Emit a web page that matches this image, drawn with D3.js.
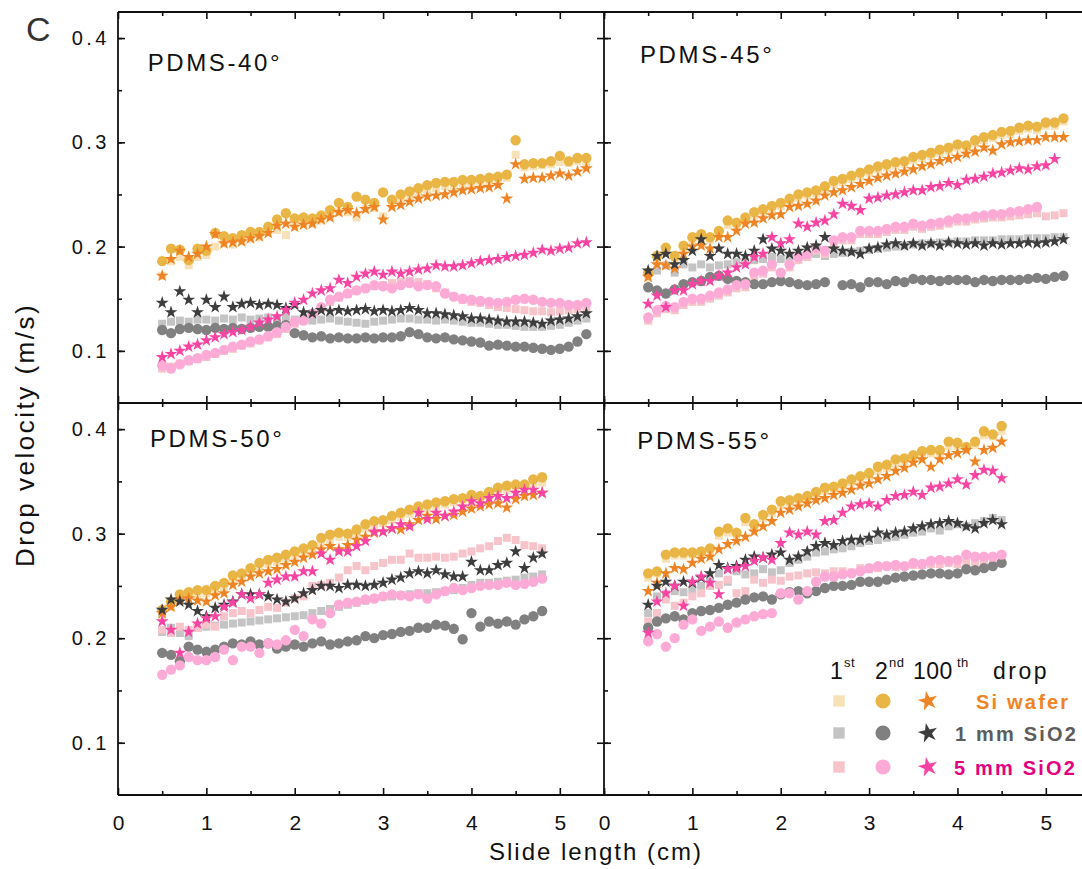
<!DOCTYPE html>
<html><head><meta charset="utf-8">
<script src="https://cdn.jsdelivr.net/npm/d3@7"></script>
<style>
body{margin:0;background:#fff}
svg{display:block}
text{font-family:Arial,"Liberation Sans",Helvetica,sans-serif}
</style>
</head><body>
<svg id="chart" width="1082" height="869"></svg>
<script>
// ---------- sample positions (cm) ----------
const X40 = [0.5,0.6,0.7,0.8,0.9,1.0,1.1,1.2,1.3,1.4,1.5,1.6,1.7,1.8,1.9,2.0,2.1,2.2,2.3,2.4,2.5,2.6,2.7,2.8,2.9,3.0,3.1,3.2,3.3,3.4,3.5,3.6,3.7,3.8,3.9,4.0,4.1,4.2,4.3,4.4,4.5,4.6,4.7,4.8,4.9,5.0,5.1,5.2,5.3];
const X45 = [0.5,0.6,0.7,0.8,0.9,1.0,1.1,1.2,1.3,1.4,1.5,1.6,1.7,1.8,1.9,2.0,2.1,2.2,2.3,2.4,2.5,2.6,2.7,2.8,2.9,3.0,3.1,3.2,3.3,3.4,3.5,3.6,3.7,3.8,3.9,4.0,4.1,4.2,4.3,4.4,4.5,4.6,4.7,4.8,4.9,5.0,5.1,5.2];
const X50 = [0.5,0.6,0.7,0.8,0.9,1.0,1.1,1.2,1.3,1.4,1.5,1.6,1.7,1.8,1.9,2.0,2.1,2.2,2.3,2.4,2.5,2.6,2.7,2.8,2.9,3.0,3.1,3.2,3.3,3.4,3.5,3.6,3.7,3.8,3.9,4.0,4.1,4.2,4.3,4.4,4.5,4.6,4.7,4.8];
const X55 = [0.5,0.6,0.7,0.8,0.9,1.0,1.1,1.2,1.3,1.4,1.5,1.6,1.7,1.8,1.9,2.0,2.1,2.2,2.3,2.4,2.5,2.6,2.7,2.8,2.9,3.0,3.1,3.2,3.3,3.4,3.5,3.6,3.7,3.8,3.9,4.0,4.1,4.2,4.3,4.4,4.5];

// ---------- PDMS-40° (m/s) ----------
const si1st_40 = [.172,.186,.190,.182,.190,.192,.200,.203,.202,.205,.207,.209,.214,.216,.211,.220,.222,.222,.225,.229,.233,.233,.228,.236,.237,.229,.240,.244,.247,.250,.254,.256,.258,.258,.260,.261,.262,.263,.264,.266,.288,.276,.277,.278,.279,.281,.280,.282,.281];
const si2nd_40 = [.186,.198,.197,.187,.198,.196,.213,.210,.208,.211,.214,.214,.219,.226,.232,.227,.228,.227,.230,.235,.242,.238,.248,.245,.242,.252,.245,.250,.253,.256,.259,.261,.262,.262,.264,.264,.265,.266,.267,.269,.302,.279,.280,.280,.282,.287,.282,.285,.285];
const si100_40 = [.172,.188,.196,.190,.193,.200,.212,.203,.204,.205,.208,.210,.213,.220,.222,.219,.221,.222,.226,.228,.233,.235,.232,.236,.238,.226,.238,.240,.243,.246,.248,.249,.250,.252,.254,.255,.256,.257,.259,.246,.279,.265,.266,.266,.268,.270,.268,.272,.275];
const m1st_40 = [.126,.128,.129,.128,.130,.130,.129,.131,.130,.132,.130,.131,.132,.131,.133,.130,.131,.129,.130,.131,.129,.128,.127,.126,.128,.129,.130,.131,.131,.130,.130,.129,.130,.129,.128,.127,.127,.126,.125,.125,.124,.123,.123,.123,.124,.125,.127,.129,.131];
const m2nd_40 = [.120,.117,.121,.122,.121,.120,.122,.121,.122,.121,.122,.123,.123,.124,.125,.117,.115,.113,.114,.112,.113,.112,.112,.113,.112,.113,.113,.114,.118,.116,.113,.112,.113,.111,.110,.109,.108,.105,.106,.105,.104,.104,.103,.102,.101,.102,.104,.109,.116];
const m100_40 = [.146,.137,.157,.149,.137,.149,.142,.152,.142,.145,.146,.144,.145,.144,.141,.144,.137,.136,.139,.138,.139,.138,.139,.140,.138,.139,.138,.139,.141,.139,.136,.136,.135,.134,.133,.131,.131,.130,.129,.128,.128,.128,.127,.126,.129,.130,.131,.133,.136];
const p1st_40 = [.083,.085,.088,.090,.092,.094,.097,.100,.102,.105,.107,.110,.113,.116,.121,.126,.130,.136,.141,.147,.151,.155,.158,.160,.162,.163,.165,.166,.167,.166,.164,.160,.156,.152,.149,.147,.146,.144,.142,.141,.140,.139,.138,.138,.137,.138,.139,.140,.141];
const p2nd_40 = [.086,.083,.087,.091,.093,.096,.098,.101,.104,.106,.109,.111,.114,.118,.123,.128,.129,.136,.142,.149,.152,.155,.158,.160,.163,.162,.160,.163,.165,.162,.163,.162,.155,.152,.150,.149,.148,.147,.146,.147,.149,.150,.149,.147,.146,.146,.144,.144,.146];
const p100_40 = [.094,.097,.100,.104,.106,.110,.113,.116,.118,.120,.123,.127,.130,.133,.139,.146,.149,.155,.158,.160,.168,.165,.171,.174,.176,.173,.176,.174,.176,.178,.179,.182,.181,.181,.182,.184,.186,.187,.188,.190,.191,.192,.194,.197,.196,.198,.199,.203,.204];

// ---------- PDMS-45° ----------
const si1st_45 = [.170,.186,.195,.188,.197,.205,.208,.207,.212,.221,.220,.225,.230,.233,.236,.239,.243,.247,.249,.251,.255,.260,.262,.265,.268,.271,.274,.276,.278,.279,.283,.285,.287,.290,.292,.295,.294,.299,.302,.304,.307,.308,.311,.313,.312,.316,.316,.320];
const si2nd_45 = [.175,.191,.199,.191,.201,.209,.212,.209,.215,.225,.223,.228,.233,.236,.239,.242,.246,.250,.252,.254,.258,.263,.265,.268,.271,.274,.277,.279,.281,.282,.286,.288,.290,.293,.295,.298,.297,.302,.305,.307,.310,.311,.314,.316,.315,.319,.319,.323];
const si100_45 = [.171,.183,.182,.179,.193,.200,.201,.198,.209,.209,.215,.222,.223,.227,.230,.231,.238,.239,.241,.244,.249,.252,.254,.257,.260,.263,.266,.268,.270,.272,.274,.277,.279,.282,.284,.286,.289,.291,.295,.292,.298,.300,.301,.302,.302,.305,.305,.305];
const m1st_45 = [.174,.177,.182,.175,.183,.180,.183,.180,.182,.183,.185,.185,.187,.188,.190,.188,.190,.191,.191,.193,.191,.193,.194,.195,.196,.197,.198,.199,.200,.201,.202,.203,.203,.204,.204,.205,.205,.206,.206,.206,.207,.207,.207,.208,.208,.208,.209,.209];
const m2nd_45 = [.161,.158,.155,.159,.164,.166,.167,.171,.172,.169,.167,.166,.164,.164,.166,.167,.166,.164,.163,.164,.166,null,.163,.164,.161,.166,.166,.164,.167,.166,.169,.168,.168,.167,.168,.168,.168,.166,.168,.167,.168,.168,.168,.169,.170,.169,.171,.172];
const m100_45 = [.177,.191,.193,.183,.187,.196,.207,.191,.198,.193,.193,.191,.196,.207,.198,.196,.193,.196,.199,.201,.209,.198,.196,.195,.193,.198,.199,.202,.203,.201,.203,.201,.203,.201,.204,.203,.202,.203,.201,.203,.202,.203,.203,.204,.203,.204,.205,.207];
const p1st_45 = [.129,.136,.140,.139,.144,.147,.147,.150,.153,.156,.160,.161,.171,.174,.180,.172,.180,.187,.190,.196,.193,.203,.206,.206,.212,.212,.212,.214,.216,.216,.219,.217,.219,.220,.222,.224,.224,.226,.227,.228,.228,.229,.230,.231,.232,.229,.230,.232];
const p2nd_45 = [.132,.139,.143,.142,.147,.150,.150,.153,.156,.159,.163,.164,.175,.177,.183,.175,.183,.190,.193,.199,.196,.206,.209,.209,.215,.215,.215,.217,.219,.219,.222,.220,.222,.223,.225,.227,.227,.229,.230,.231,.231,.233,.234,.236,.238,null,null,null];
const p100_45 = [.145,.153,.142,.158,.158,.164,.167,.167,.172,.175,.180,.183,.190,.193,.209,.203,.207,.222,.219,.223,.225,.231,.241,.239,.235,.246,.247,.249,.250,.252,.254,.254,.257,.258,.261,.259,.264,.265,.267,.270,.271,.273,.275,.274,.277,.278,.284,null];

// ---------- PDMS-50° ----------
const si1st_50 = [.222,.230,.237,.240,.242,.243,.246,.249,.255,.258,.263,.268,.271,.273,.276,.279,.282,.285,.291,.294,.297,.297,.300,.305,.308,.310,.313,.316,.319,.322,.324,.326,.328,.330,.331,.333,.333,.336,.340,.342,.343,.344,.348,.349];
const si2nd_50 = [.227,.235,.242,.244,.246,.246,.250,.253,.260,.262,.267,.272,.275,.277,.280,.283,.286,.289,.296,.299,.301,.300,.304,.309,.312,.313,.317,.320,.323,.326,.328,.330,.331,.333,.334,.337,.336,.340,.344,.346,.347,.347,.352,.354];
const si100_50 = [.224,.230,.237,.238,.236,.235,.241,.243,.251,.254,.259,.262,.264,.266,.270,.273,.277,.280,.285,.288,.285,.289,.294,.297,.301,.302,.305,.304,.309,.313,.317,.314,.317,.318,.321,.324,.326,.328,.329,.325,.333,.336,.337,.339];
const m1st_50 = [.206,.210,.205,.202,.210,.211,.212,.213,.214,.215,.216,.217,.218,.219,.220,.221,.222,.224,.226,.228,.230,.232,.234,.236,.238,.240,.240,.241,.242,.243,.243,.244,.245,.246,.248,.251,.253,.253,.254,.255,.256,.258,.259,.261];
const m2nd_50 = [.186,.184,.178,.192,.189,.187,.189,.192,.195,.194,.197,.194,.195,.190,.192,.194,.192,.195,.197,.194,.195,.197,.198,.202,.200,.203,.204,.206,.207,.210,.210,.213,.212,.209,.199,.224,.211,.216,.214,.216,.213,.218,.221,.226];
const m100_50 = [.227,.237,.235,.232,.226,.221,.229,.232,.235,.242,.242,.242,.240,.237,.235,.238,.243,.246,.250,.250,.248,.251,.251,.250,.251,.253,.256,.258,.262,.264,.262,.265,.261,.259,.259,.273,.265,.265,.270,.272,.283,.267,.277,.281];
const p1st_50 = [.208,.205,.211,.208,.210,.213,.211,.221,.224,.226,.224,.227,.230,.229,.234,.238,.240,.250,.251,.253,.258,.265,.269,.265,.269,.272,.275,.275,.281,.277,.277,.278,.277,.278,.281,.283,.286,.288,.293,.296,.294,.289,.288,.286];
const p2nd_50 = [.165,.170,.174,.182,.179,.179,.182,.189,.179,.192,.192,.186,.195,.194,.198,.208,.202,.218,.214,.224,.232,.234,.235,.237,.238,.240,.242,.241,.240,.242,.238,.242,.245,.248,.246,.248,.250,.251,.251,.253,.251,.252,.254,.257];
const p100_50 = [.216,.208,.186,.206,.214,.219,.221,.230,.234,.242,.238,.242,.253,.256,.259,.259,.264,.264,.281,.275,.283,.283,.288,.293,.302,.302,.305,.309,.307,.320,.314,.320,.317,.321,.326,.331,.329,.334,.336,.334,.339,.342,.342,.339];

// ---------- PDMS-55° ----------
const si1st_55 = [.258,.262,.276,.279,.279,.280,.281,.284,.298,.301,.299,.311,.307,.315,.320,.327,.329,.331,.333,.337,.341,.342,.345,.349,.352,.355,.360,.363,.367,.369,.372,.375,.377,.377,.384,.384,.381,.385,.394,.393,.398];
const si2nd_55 = [.262,.264,.280,.282,.282,.282,.283,.286,.302,.305,.301,.315,.309,.318,.323,.331,.332,.334,.336,.340,.344,.345,.348,.352,.355,.358,.364,.366,.371,.372,.375,.379,.380,.380,.388,.387,.383,.388,.398,.395,.403];
const si100_55 = [.245,.253,.262,.267,.266,.272,.276,.278,.285,.290,.293,.297,.302,.307,.312,.320,.323,.326,.329,.332,.334,.337,.339,.342,.346,.348,.352,.355,.360,.363,.368,.371,.364,.371,.375,.377,.380,.369,.380,.382,.388];
const m1st_55 = [.224,.240,.242,.245,.244,.246,.250,.254,.262,.254,.264,.261,.262,.266,.263,.265,.272,.275,.278,.282,.283,.285,.286,.288,.291,.293,.294,.296,.297,.299,.301,.302,.305,.303,.307,.309,.307,.310,.312,.315,.313];
const m2nd_55 = [.210,.216,.219,.221,.218,.224,.226,.227,.229,.232,.234,.237,.239,.240,.237,.242,.244,.245,.243,.245,.248,.250,.250,.251,.254,.254,.254,.256,.258,.259,.260,.261,.262,.262,.261,.262,.266,.265,.267,.269,.272];
const m100_55 = [.232,.250,.254,.250,.254,.253,.258,.262,.270,.267,.269,.275,.278,.277,.280,.282,.275,.278,.283,.288,.291,.289,.293,.294,.294,.296,.301,.299,.301,.302,.305,.307,.309,.310,.312,.310,.307,.305,.310,.313,.309];
const p1st_55 = [.216,.224,.237,.231,.234,.240,.243,.250,.251,.256,.243,.245,.256,.253,.256,.255,.259,.260,.262,.263,.262,.264,.264,.263,.267,.266,.267,.269,.268,.269,.270,.270,.271,.271,.272,.271,.272,.273,.273,.274,.274];
const p2nd_55 = [.197,.204,.192,.200,.213,.218,.207,.211,.216,.210,.215,.218,.221,.223,.224,.243,.243,.237,.245,.254,.259,.259,.261,.262,.264,.267,.269,.269,.270,.269,.272,.271,.274,.275,.274,.275,.280,.278,.278,.278,.280];
const p100_55 = [.205,.235,.243,.250,.231,.254,.259,.253,.242,.266,.267,.269,.274,.277,.275,.291,.301,.299,.302,.299,.312,.313,.320,.326,.328,.329,.326,.332,.336,.337,.340,.337,.344,.345,.348,.352,.347,.356,.361,.360,.353];

// ---------- labels / ticks ----------
const panelLabels = ["PDMS-40°","PDMS-45°","PDMS-50°","PDMS-55°"];
const materials = ["Si wafer","1 mm SiO2","5 mm SiO2"];
const yTicks = [0.1,0.2,0.3,0.4];
const yMinor = [0.1,0.15,0.2,0.25,0.3,0.35,0.4];
const xTicks = [0,1,2,3,4,5];
const xMinor = [0.5,1.5,2.5,3.5,4.5,5.5];

// ---------- styling ----------
const markerColors = [
  ["#F7E1B8","#E9B646","#EF8424"],
  ["#C4C4C4","#808080","#3D3D3D"],
  ["#F6C4CA","#FDAAD7","#F944A4"]
];
const legendTextColors = ["#EF8424","#5C5C5C","#E4007F"];

const panels = [
  {label:panelLabels[0], xs:X40, data:[[si1st_40,si2nd_40,si100_40],[m1st_40,m2nd_40,m100_40],[p1st_40,p2nd_40,p100_40]]},
  {label:panelLabels[1], xs:X45, data:[[si1st_45,si2nd_45,si100_45],[m1st_45,m2nd_45,m100_45],[p1st_45,p2nd_45,p100_45]]},
  {label:panelLabels[2], xs:X50, data:[[si1st_50,si2nd_50,si100_50],[m1st_50,m2nd_50,m100_50],[p1st_50,p2nd_50,p100_50]]},
  {label:panelLabels[3], xs:X55, data:[[si1st_55,si2nd_55,si100_55],[m1st_55,m2nd_55,m100_55],[p1st_55,p2nd_55,p100_55]]}
];

const svg = d3.select("#chart");
const L = 118, M = 604, R = 1090, T = 12, MY = 403, B = 795;
const boxes = [
  {x0:L, x1:M, y0:T,  y1:MY, left:true,  bottom:false, lx:147.7, ly:70.7},
  {x0:M, x1:R, y0:T,  y1:MY, left:false, bottom:false, lx:640,   ly:62.7},
  {x0:L, x1:M, y0:MY, y1:B,  left:true,  bottom:true,  lx:150,   ly:447.3},
  {x0:M, x1:R, y0:MY, y1:B,  left:false, bottom:true,  lx:637.3, ly:449.3}
];

const symSquare = d3.symbol().type(d3.symbolSquare).size(64);
const symCircle = d3.symbol().type(d3.symbolCircle).size(84);
const symStar   = d3.symbol().type(d3.symbolStar).size(52);
const syms = [symSquare, symCircle, symStar];

function styleAxis(g){
  g.select(".domain").remove();
  g.selectAll(".tick line").attr("stroke","#111").attr("stroke-width",1.6);
  g.selectAll(".tick text").attr("fill","#111").attr("font-size",20)
    .attr("font-family","Arial, 'Liberation Sans', sans-serif");
}

panels.forEach((p, i) => {
  const b = boxes[i];
  const x = d3.scaleLinear().domain([0,5.5]).range([b.x0, b.x1]);
  const y = d3.scaleLinear().domain([0.05,0.425]).range([b.y1, b.y0]);
  const g = svg.append("g");

  // data: squares, then circles, then stars
  for (let d = 0; d < 3; d++) {
    for (let m = 0; m < 3; m++) {
      const vals = p.data[m][d];
      const pts = p.xs.map((xv, k) => [xv, vals[k]]).filter(q => q[1] != null);
      g.append("g").selectAll("path").data(pts).join("path")
        .attr("d", syms[d])
        .attr("transform", q => `translate(${x(q[0])},${y(q[1])})`)
        .attr("fill", markerColors[m][d]);
    }
  }

  // top ticks (inward)
  g.append("g").attr("transform",`translate(0,${b.y0})`)
    .call(d3.axisBottom(x).tickValues(xTicks).tickSize(7).tickFormat("")).call(styleAxis);
  g.append("g").attr("transform",`translate(0,${b.y0})`)
    .call(d3.axisBottom(x).tickValues(xMinor).tickSize(4).tickFormat("")).call(styleAxis);
  // bottom ticks (inward) + labels on bottom row
  const bx = d3.axisBottom(x).tickValues(xTicks).tickSizeInner(-7).tickSizeOuter(0).tickPadding(20)
    .tickFormat(b.bottom ? d3.format("d") : "");
  g.append("g").attr("transform",`translate(0,${b.y1})`).call(bx).call(styleAxis)
    .selectAll(".tick text").attr("font-size",21);
  g.append("g").attr("transform",`translate(0,${b.y1})`)
    .call(d3.axisBottom(x).tickValues(xMinor).tickSizeInner(-4).tickFormat("")).call(styleAxis);
  // left ticks (inward) + labels on left column
  const ly = d3.axisLeft(y).tickValues(yTicks).tickSizeInner(-7).tickSizeOuter(0).tickPadding(8)
    .tickFormat(b.left ? d3.format(".1f") : "");
  g.append("g").attr("transform",`translate(${b.x0},0)`).call(ly).call(styleAxis)
    .selectAll(".tick text").attr("letter-spacing","3.5px");
  g.append("g").attr("transform",`translate(${b.x0},0)`)
    .call(d3.axisLeft(y).tickValues(yMinor).tickSizeInner(-4).tickFormat("")).call(styleAxis);
  // right ticks for left column (inward)
  if (b.left) {
    g.append("g").attr("transform",`translate(${b.x1},0)`)
      .call(d3.axisRight(y).tickValues(yTicks).tickSizeInner(-7).tickFormat("")).call(styleAxis);
  }

  // panel label
  svg.append("text").attr("x", b.lx).attr("y", b.ly)
    .attr("font-size",24).attr("letter-spacing","2.6px").attr("fill","#111")
    .text(p.label);
});

// frame lines
const frame = svg.append("g").attr("stroke","#111").attr("stroke-width",1.8);
[[L,T,1082,T],[L,MY,1082,MY],[L,B,1082,B],[L,T,L,B],[M,T,M,B]].forEach(s => {
  frame.append("line").attr("x1",s[0]).attr("y1",s[1]).attr("x2",s[2]).attr("y2",s[3]);
});

// panel letter
svg.append("text").attr("x",26).attr("y",41).attr("font-size",34).attr("fill","#333").text("C");

// axis titles
svg.append("text").attr("x",596).attr("y",860).attr("text-anchor","middle")
  .attr("font-size",24).attr("letter-spacing","2px").attr("fill","#111").text("Slide length (cm)");
svg.append("text").attr("transform","translate(34,435) rotate(-90)").attr("text-anchor","middle")
  .attr("font-size",26).attr("letter-spacing","2.5px").attr("fill","#111").text("Drop velocity (m/s)");

// legend
const lg = svg.append("g");
const hdr = [
  {t:"1", x:830, y:679, s:23, ls:0}, {t:"st", x:844, y:667, s:13, ls:0.5},
  {t:"2", x:875, y:679, s:23, ls:0}, {t:"nd", x:889, y:667, s:13, ls:0.5},
  {t:"100", x:913, y:679, s:23, ls:0.5}, {t:"th", x:957, y:667, s:13, ls:0.5},
  {t:"drop", x:993, y:679, s:23, ls:2.5}
];
hdr.forEach(h => lg.append("text").attr("x",h.x).attr("y",h.y).attr("font-size",h.s)
  .attr("letter-spacing", h.ls + "px").attr("fill","#111").text(h.t));

const rowY = [701, 733, 767];
const textX = [976, 955, 954];
const legSyms = [
  d3.symbol().type(d3.symbolSquare).size(130),
  d3.symbol().type(d3.symbolCircle).size(180),
  d3.symbol().type(d3.symbolStar).size(120)
];
const colX = [839, 883, 928];
materials.forEach((mat, m) => {
  for (let d = 0; d < 3; d++) {
    lg.append("path").attr("d", legSyms[d])
      .attr("transform", `translate(${colX[d]},${rowY[m]})${d===2?" rotate(-12)":""}`)
      .attr("fill", markerColors[m][d]);
  }
  lg.append("text").attr("x", textX[m]).attr("y", rowY[m] + 7.5)
    .attr("font-size",20).attr("font-weight","bold").attr("letter-spacing","2.2px")
    .attr("fill", legendTextColors[m]).text(mat);
});
</script>
</body></html>
